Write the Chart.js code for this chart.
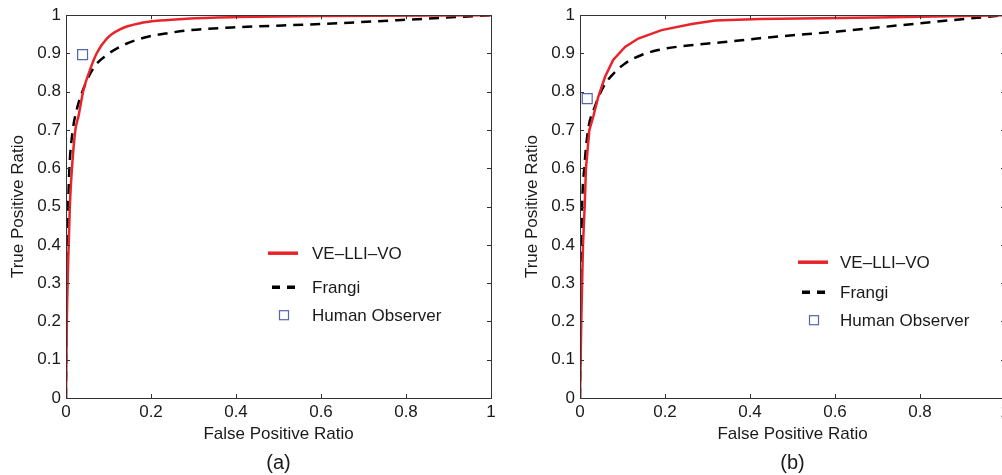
<!DOCTYPE html>
<html>
<head>
<meta charset="utf-8">
<script src="https://cdn.jsdelivr.net/npm/chart.js@4.4.0/dist/chart.umd.min.js"></script>
<style>
  html, body { margin:0; padding:0; background:#fff; overflow:hidden; width:1002px; height:475px; }
  .plot { position:absolute; top:0; width:510px; height:475px; }
  #boxA { left:0; }
  #boxB { left:514px; }
</style>
</head>
<body>
<div class="plot" id="boxA"><canvas id="rocA"></canvas></div>
<div class="plot" id="boxB"><canvas id="rocB"></canvas></div>
<script>
// ROC curves
var seriesNames = ['VE\u2013LLI\u2013VO', 'Frangi', 'Human Observer'];
var xTicks = [0, 0.2, 0.4, 0.6, 0.8, 1];
var yTicks = [0, 0.1, 0.2, 0.3, 0.4, 0.5, 0.6, 0.7, 0.8, 0.9, 1];

// (a)
var fprA_ve = [0, 0.002, 0.005, 0.009, 0.014, 0.022, 0.029, 0.041, 0.056, 0.072, 0.096, 0.127, 0.174, 0.221, 0.284, 0.4, 0.6, 1];
var tprA_ve = [0, 0.2, 0.35, 0.5, 0.6, 0.7, 0.734, 0.804, 0.856, 0.9, 0.939, 0.963, 0.979, 0.986, 0.991, 0.995, 0.998, 1];
var fprA_fr = [0, 0.001, 0.003, 0.005, 0.008, 0.016, 0.025, 0.037, 0.064, 0.096, 0.135, 0.19, 0.245, 0.292, 0.39, 0.6, 0.8, 1];
var tprA_fr = [0, 0.3, 0.4, 0.5, 0.6, 0.7, 0.752, 0.796, 0.861, 0.896, 0.922, 0.943, 0.954, 0.961, 0.968, 0.977, 0.988, 1];
var humanA = [0.039, 0.897];

// (b)
var fprB_ve = [0, 0.003, 0.007, 0.011, 0.014, 0.022, 0.031, 0.043, 0.059, 0.078, 0.106, 0.137, 0.192, 0.263, 0.318, 0.424, 0.7, 1];
var tprB_ve = [0, 0.2, 0.4, 0.5, 0.6, 0.7, 0.734, 0.787, 0.839, 0.883, 0.917, 0.939, 0.961, 0.977, 0.986, 0.99, 0.994, 1];
var fprB_fr = [0, 0.002, 0.005, 0.01, 0.019, 0.035, 0.055, 0.075, 0.106, 0.145, 0.184, 0.239, 0.302, 0.393, 0.424, 0.612, 0.8, 1];
var tprB_fr = [0, 0.3, 0.5, 0.6, 0.7, 0.761, 0.813, 0.843, 0.874, 0.896, 0.909, 0.919, 0.926, 0.936, 0.94, 0.958, 0.979, 1];
var humanB = [0.017, 0.782];

var RED = '#e8242a';
var BLUE = '#5566b0';
var INK = '#1a1a1a';

Chart.defaults.font.family = '"Liberation Sans", Arial, Helvetica, sans-serif';
Chart.defaults.font.size = 17;
Chart.defaults.color = INK;

function toPoints(xs, ys) {
  var pts = [];
  for (var i = 0; i < xs.length; i++) pts.push({x: xs[i], y: ys[i]});
  return pts;
}

function fmt(v) { return String(+v.toFixed(2)); }

// matlab style box: frame, inward ticks on all 4 sides, legend inside, caption under
var boxPlugin = {
  id: 'matlabBox',
  afterDatasetsDraw: function(chart, args, opts) {
    var ctx = chart.ctx, a = chart.chartArea;
    var sx = chart.scales.x, sy = chart.scales.y;
    ctx.save();
    ctx.strokeStyle = '#333';
    ctx.lineWidth = 1;
    ctx.strokeRect(Math.round(a.left) + 0.5, Math.round(a.top) + 0.5, Math.round(a.right - a.left), Math.round(a.bottom - a.top));
    ctx.beginPath();
    xTicks.forEach(function(t) {
      var px = Math.round(sx.getPixelForValue(t)) + 0.5;
      ctx.moveTo(px, a.bottom); ctx.lineTo(px, a.bottom - 4);
      ctx.moveTo(px, a.top); ctx.lineTo(px, a.top + 4);
    });
    yTicks.forEach(function(t) {
      var py = Math.round(sy.getPixelForValue(t)) + 0.5;
      ctx.moveTo(a.left, py); ctx.lineTo(a.left + 4, py);
      ctx.moveTo(a.right, py); ctx.lineTo(a.right - 4, py);
    });
    ctx.stroke();

    // legend
    var ds = chart.data.datasets;
    var lx = a.left + opts.legendX, ly = a.top + opts.legendY;
    var rows = opts.rowGaps;
    ctx.font = '17px "Liberation Sans", Arial, sans-serif';
    ctx.fillStyle = INK;
    ctx.textBaseline = 'middle';
    ctx.textAlign = 'left';
    for (var i = 0; i < ds.length; i++) {
      var yy = ly + rows[i];
      var dashed = ds[i].borderDash && ds[i].borderDash.length;
      if (ds[i].showLine) {
        ctx.beginPath();
        ctx.strokeStyle = ds[i].borderColor;
        ctx.lineWidth = 3.5;
        ctx.setLineDash(dashed ? [8, 7] : []);
        ctx.moveTo(lx + (dashed ? 4 : 0), yy);
        ctx.lineTo(lx + 30, yy);
        ctx.stroke();
        ctx.setLineDash([]);
      } else {
        ctx.strokeStyle = ds[i].borderColor;
        ctx.lineWidth = 1.2;
        ctx.strokeRect(lx + 11.5, yy - 4.5, 9, 9);
      }
      ctx.fillText(ds[i].label, lx + opts.textGap, yy + 1);
    }

    // (a) / (b)
    ctx.font = '20px "Liberation Sans", Arial, sans-serif';
    ctx.textAlign = 'center';
    ctx.fillText(opts.caption, (a.left + a.right) / 2, opts.captionY);
    ctx.restore();
  }
};

function makeRoc(id, ve, fr, human, smooth, legend) {
  var ctx = document.getElementById(id).getContext('2d');
  return new Chart(ctx, {
    type: 'scatter',
    data: {
      datasets: [
        {
          label: seriesNames[0],
          data: ve,
          showLine: true,
          borderColor: RED,
          borderWidth: 2.5,
          pointRadius: 0,
          cubicInterpolationMode: smooth ? 'monotone' : 'default',
          tension: 0
        },
        {
          label: seriesNames[1],
          data: fr,
          showLine: true,
          borderColor: '#000',
          borderWidth: 2.5,
          borderDash: [10, 7],
          pointRadius: 0,
          cubicInterpolationMode: 'monotone'
        },
        {
          label: seriesNames[2],
          data: [{x: human[0], y: human[1]}],
          showLine: false,
          pointStyle: 'rect',
          pointRadius: 7,
          borderColor: BLUE,
          borderWidth: 1.2,
          backgroundColor: 'rgba(0,0,0,0)'
        }
      ]
    },
    options: {
      responsive: true,
      maintainAspectRatio: false,
      animation: false,
      layout: { padding: { top: 15, right: 19, left: 0, bottom: 0 } },
      plugins: {
        legend: { display: false },
        tooltip: { enabled: false },
        matlabBox: legend
      },
      scales: {
        x: {
          type: 'linear', min: 0, max: 1,
          afterBuildTicks: function(s) { s.ticks = xTicks.map(function(v) { return {value: v}; }); },
          ticks: { padding: 4, callback: fmt, maxRotation: 0, autoSkip: false },
          grid: { display: false, drawTicks: false },
          border: { display: false },
          title: { display: true, text: 'False Positive Ratio', padding: { top: 0, bottom: 30 } },
          afterFit: function(s) { s.height = 77; }
        },
        y: {
          type: 'linear', min: 0, max: 1,
          afterBuildTicks: function(s) { s.ticks = yTicks.map(function(v) { return {value: v}; }); },
          ticks: { padding: 5, callback: fmt, autoSkip: false },
          grid: { display: false, drawTicks: false },
          border: { display: false },
          title: { display: true, text: 'True Positive Ratio', padding: { top: 8, bottom: 0 } },
          afterFit: function(s) { s.width = 66; }
        }
      }
    },
    plugins: [boxPlugin]
  });
}

makeRoc('rocA', toPoints(fprA_ve, tprA_ve), toPoints(fprA_fr, tprA_fr), humanA, true,
  { legendX: 202, legendY: 238, rowGaps: [0, 34, 62], textGap: 44, caption: '(a)', captionY: 463 });
makeRoc('rocB', toPoints(fprB_ve, tprB_ve), toPoints(fprB_fr, tprB_fr), humanB, false,
  { legendX: 218, legendY: 247, rowGaps: [0, 30, 58], textGap: 42, caption: '(b)', captionY: 463 });
</script>
</body>
</html>
